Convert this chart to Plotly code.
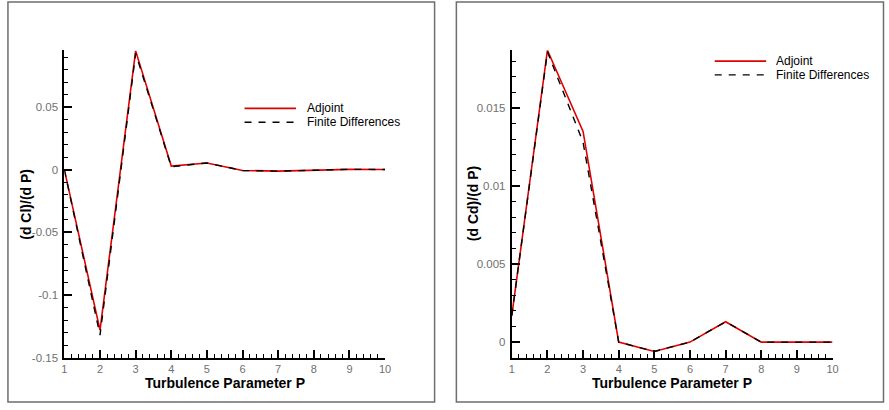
import plotly.graph_objects as go

# Turbulence parameter index
params = [1, 2, 3, 4, 5, 6, 7, 8, 9, 10]

# Lift sensitivity d(Cl)/d(P)
dcl_adjoint = [0.0, -0.128, 0.095, 0.003, 0.0055, -0.0005, -0.001, 0.0, 0.0004, 0.0003]
dcl_fd = [0.0, -0.132, 0.093, 0.0025, 0.0055, -0.0005, -0.001, 0.0, 0.0004, 0.0003]

# Drag sensitivity d(Cd)/d(P)
dcd_adjoint = [0.0017, 0.0187, 0.0135, 0.0, -0.0006, 0.0, 0.0013, 0.0, 0.0, 0.0]
dcd_fd = [0.0017, 0.0186, 0.0128, 0.0, -0.0006, 0.0, 0.0013, 0.0, 0.0, 0.0]

series_names = ["Adjoint", "Finite Differences"]
y_titles = ["(d Cl)/(d P)", "(d Cd)/(d P)"]
x_title = "Turbulence Parameter P"

# Left axis ticks
cl_ticks = [-0.15, -0.1, -0.05, 0, 0.05]
cl_ticktext = ["-0.15", "-0.1", "-0.05", "0", "0.05"]
# Right axis ticks
cd_ticks = [0, 0.005, 0.01, 0.015]
cd_ticktext = ["0", "0.005", "0.01", "0.015"]

W, H = 889, 410
FONT = "Liberation Sans, Arial, Helvetica, sans-serif"
RED = "#e00000"
TICK_GRAY = "#707070"


def px_x(p):
    return p / W


def px_y(p):
    return 1 - p / H


fig = go.Figure()

panels = [
    dict(xa="x", ya="y", adj=dcl_adjoint, fd=dcl_fd),
    dict(xa="x2", ya="y2", adj=dcd_adjoint, fd=dcd_fd),
]
for pnl in panels:
    fig.add_trace(go.Scatter(x=params, y=pnl["adj"], mode="lines", name=series_names[0],
                             line=dict(color=RED, width=1.6), xaxis=pnl["xa"], yaxis=pnl["ya"],
                             showlegend=False))
    fig.add_trace(go.Scatter(x=params, y=pnl["fd"], mode="lines", name=series_names[1],
                             line=dict(color="black", width=1.4, dash="7px,7px"),
                             xaxis=pnl["xa"], yaxis=pnl["ya"], showlegend=False))

common_x = dict(range=[1, 10], tickmode="array", tickvals=params,
                ticktext=[str(v) for v in params], ticks="inside", ticklen=8, tickwidth=2,
                tickcolor="black", showline=True, linecolor="black", linewidth=2,
                showgrid=False, zeroline=False, fixedrange=True, ticklabelstandoff=0,
                tickfont=dict(family=FONT, size=11, color=TICK_GRAY),
                minor=dict(ticks="inside", ticklen=4, tickwidth=1, tickcolor="black", dtick=0.2,
                           showgrid=False))
common_y = dict(ticks="inside", ticklen=8, tickwidth=2, tickcolor="black", showline=True,
                linecolor="black", linewidth=2, showgrid=False, zeroline=False, fixedrange=True,
                ticklabelstandoff=2,
                tickfont=dict(family=FONT, size=11.5, color=TICK_GRAY))

ydom = [px_y(363), px_y(51)]
fig.update_layout(
    width=W, height=H, margin=dict(l=0, r=0, t=0, b=0),
    paper_bgcolor="white", plot_bgcolor="white", showlegend=False,
    xaxis=dict(domain=[px_x(62), px_x(386)], anchor="y", **common_x),
    yaxis=dict(domain=ydom, anchor="x", range=[-0.15, 0.0955], tickmode="array",
               tickvals=cl_ticks, ticktext=cl_ticktext,
               minor=dict(ticks="inside", ticklen=4, tickwidth=1, tickcolor="black",
                          dtick=0.01, showgrid=False), **common_y),
    xaxis2=dict(domain=[px_x(514), px_x(838)], anchor="y2", **common_x),
    yaxis2=dict(domain=ydom, anchor="x2", range=[-0.001, 0.0187], tickmode="array",
                tickvals=cd_ticks, ticktext=cd_ticktext,
                minor=dict(ticks="inside", ticklen=4, tickwidth=1, tickcolor="black",
                           dtick=0.001, showgrid=False), **common_y),
)

shapes = []
annotations = []

# Frames around each panel
for x0, x1 in [(5, 436), (458, 889.5)]:
    shapes.append(dict(type="rect", xref="paper", yref="paper", x0=px_x(x0), x1=px_x(x1),
                       y0=px_y(408), y1=px_y(2), line=dict(color="#6e6e6e", width=1.5)))

# Axis titles
for cx in [224, 676]:
    annotations.append(dict(text=x_title, x=px_x(cx), y=px_y(389), xref="paper", yref="paper",
                            showarrow=False, xanchor="center", yanchor="middle",
                            font=dict(family=FONT, size=14, color="black", weight="bold")))
for cx, ty in [(23, y_titles[0]), (475, y_titles[1])]:
    annotations.append(dict(text=ty, x=px_x(cx), y=px_y(207), xref="paper", yref="paper",
                            showarrow=False, textangle=-90, xanchor="center", yanchor="middle",
                            font=dict(family=FONT, size=14, color="black", weight="bold")))

# Legend keys
for lx0, lx1, tx, ly in [(244, 296, 305, 110), (719, 771, 779, 62)]:
    shapes.append(dict(type="line", xref="paper", yref="paper", x0=px_x(lx0), x1=px_x(lx1),
                       y0=px_y(ly), y1=px_y(ly), line=dict(color=RED, width=1.6)))
    shapes.append(dict(type="line", xref="paper", yref="paper", x0=px_x(lx0), x1=px_x(lx1),
                       y0=px_y(ly + 14), y1=px_y(ly + 14),
                       line=dict(color="black", width=1.4, dash="7px,7px")))
    for k, name in enumerate(series_names):
        annotations.append(dict(text=name, x=px_x(tx), y=px_y(ly + 14 * k), xref="paper",
                                yref="paper", showarrow=False, xanchor="left", yanchor="middle",
                                font=dict(family=FONT, size=12, color="black")))

fig.update_layout(shapes=shapes, annotations=annotations)
fig.write_html("out.html")
